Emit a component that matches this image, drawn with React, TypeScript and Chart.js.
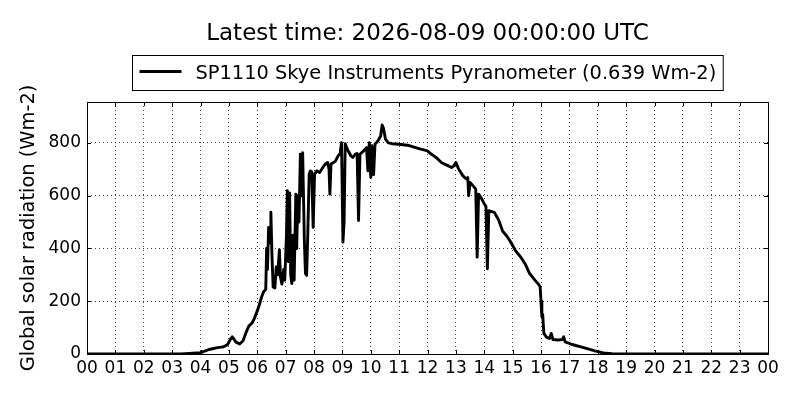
import React, { useEffect, useRef } from 'react';
import { Chart, registerables } from 'chart.js';

Chart.register(...registerables);

const titleText = 'Latest time: 2026-08-09 00:00:00 UTC';
const seriesLabel = 'SP1110 Skye Instruments Pyranometer (0.639 Wm-2)';
const yAxisTitle = 'Global solar radiation (Wm-2)';

const hourLabels = [
  '00', '01', '02', '03', '04', '05', '06', '07', '08', '09', '10', '11',
  '12', '13', '14', '15', '16', '17', '18', '19', '20', '21', '22', '23', '00',
];
const yTickStep = 200;
const yMax = 955;

// time of day in hours
const timeHours = [
  0, 3.3, 3.6, 4.0, 4.3, 4.6, 4.8, 4.95, 5.05, 5.12, 5.25, 5.38, 5.5, 5.6, 5.7, 5.82, 5.9,
  6.05, 6.15, 6.22, 6.3, 6.33, 6.36, 6.4, 6.45, 6.48, 6.52, 6.56, 6.62, 6.67, 6.72, 6.78,
  6.82, 6.87, 6.93, 6.97, 7.03, 7.06, 7.1, 7.14, 7.18, 7.22, 7.26, 7.3, 7.36, 7.39, 7.43,
  7.47, 7.52, 7.56, 7.6, 7.66, 7.7, 7.74, 7.78, 7.83, 7.87, 7.92, 7.97, 8.02, 8.1, 8.2,
  8.3, 8.4, 8.48, 8.53, 8.56, 8.6, 8.75, 8.85, 8.92, 8.97, 9.02, 9.06, 9.1, 9.2, 9.3,
  9.37, 9.45, 9.52, 9.57, 9.62, 9.75, 9.85, 9.9, 9.95, 10.0, 10.04, 10.1, 10.15, 10.25,
  10.35, 10.4, 10.45, 10.52, 10.62, 10.75, 11.0, 11.35, 11.7, 12.0, 12.1, 12.3, 12.5,
  12.7, 12.85, 12.92, 13.0, 13.1, 13.25, 13.37, 13.42, 13.45, 13.5, 13.6, 13.7, 13.75,
  13.8, 13.9, 14.0, 14.06, 14.11, 14.16, 14.35, 14.5, 14.65, 14.78, 14.9, 15.1, 15.3,
  15.45, 15.6, 15.8, 15.93, 15.97, 16.0, 16.03, 16.06, 16.1, 16.2, 16.3, 16.36, 16.42,
  16.6, 16.75, 16.8, 16.85, 17.1, 17.5, 17.9, 18.2, 18.5, 19.0, 24.0,
];

// global solar radiation, Wm-2
const radiation = [
  0, 0, 2, 5, 17, 24, 27, 35, 55, 65, 45, 38, 50, 80, 105, 118, 135,
  178, 215, 235, 245, 400, 320, 480, 420, 537, 370, 254, 250, 330, 300, 395,
  290, 265, 320, 280, 450, 619, 350, 610, 300, 267, 450, 280, 606, 400, 600,
  500, 757, 600, 763, 430, 305, 298, 450, 682, 694, 690, 480, 682, 694, 688,
  705, 720, 726, 700, 606, 720, 730, 751, 760, 801, 424, 500, 797, 770, 751,
  745, 757, 760, 506, 757, 770, 782, 694, 801, 669, 789, 680, 795, 807,
  826, 868, 855, 814, 800, 797, 795, 790, 778, 770, 760, 745, 725,
  715, 707, 712, 726, 700, 675, 663, 669, 600, 650, 638, 625, 367,
  606, 590, 569, 560, 323, 543, 537, 510, 465, 449, 430, 392, 365,
  340, 305, 278, 262, 254, 200, 141, 150, 78, 63, 59, 78, 55,
  53, 55, 65, 46, 36, 24, 12, 4, 1, 0, 0,
];

const FONT = '"DejaVu Sans", sans-serif';
const AREA = { left: 87, right: 768, top: 102, bottom: 354 };

const mplFramePlugin = {
  id: 'mplFrame',
  afterDraw(chart: any) {
    const { ctx, chartArea, scales } = chart;
    const { left, right, top, bottom } = chartArea;
    ctx.save();
    ctx.strokeStyle = '#000';
    ctx.lineWidth = 1;
    ctx.setLineDash([]);
    // inward tick marks on all four sides
    ctx.beginPath();
    const xs = scales.x;
    for (const t of xs.ticks) {
      const px = Math.round(xs.getPixelForValue(t.value)) + 0.5;
      ctx.moveTo(px, bottom);
      ctx.lineTo(px, bottom - 4);
      ctx.moveTo(px, top);
      ctx.lineTo(px, top + 4);
    }
    const ys = scales.y;
    for (const t of ys.ticks) {
      const py = Math.round(ys.getPixelForValue(t.value)) + 0.5;
      ctx.moveTo(left, py);
      ctx.lineTo(left + 4, py);
      ctx.moveTo(right, py);
      ctx.lineTo(right - 4, py);
    }
    ctx.stroke();
    // axes frame
    ctx.strokeRect(Math.round(left) + 0.5, Math.round(top) + 0.5, Math.round(right - left), Math.round(bottom - top));

    // legend box
    const fs = 19.4;
    ctx.font = `${fs}px ${FONT}`;
    const tw = ctx.measureText(seriesLabel).width;
    const padL = 7, lineW = 42, gap = 14, padR = 7;
    const w = padL + lineW + gap + tw + padR;
    const cx = (left + right) / 2;
    const bx = Math.round(cx - w / 2) + 0.5;
    const by = top - 47 + 0.5;
    const bh = 35;
    ctx.fillStyle = '#fff';
    ctx.fillRect(bx, by, w, bh);
    ctx.strokeStyle = '#000';
    ctx.lineWidth = 1;
    ctx.strokeRect(bx, by, w, bh);
    ctx.beginPath();
    ctx.lineWidth = 2.8;
    ctx.moveTo(bx + padL, top - 30.5);
    ctx.lineTo(bx + padL + lineW, top - 30.5);
    ctx.stroke();
    ctx.fillStyle = '#000';
    ctx.textBaseline = 'alphabetic';
    ctx.textAlign = 'left';
    ctx.fillText(seriesLabel, bx + padL + lineW + gap, top - 23);
    ctx.restore();
  },
};

export default function App() {
  const canvasRef = useRef<HTMLCanvasElement | null>(null);

  useEffect(() => {
    document.body.style.margin = '0';
    const canvas = canvasRef.current;
    if (!canvas) return;
    const points = timeHours.map((h, i) => ({ x: h, y: radiation[i] }));
    const chart = new Chart(canvas, {
      type: 'line',
      data: {
        datasets: [
          {
            label: seriesLabel,
            data: points,
            borderColor: '#000',
            backgroundColor: '#000',
            borderWidth: 2.9,
            borderJoinStyle: 'round',
            borderCapStyle: 'round',
            pointRadius: 0,
            tension: 0,
            fill: false,
          },
        ],
      },
      options: {
        responsive: false,
        animation: false,
        devicePixelRatio: 1,
        layout: { padding: { left: 0, right: 800 - AREA.right, top: 0, bottom: 0 } },
        plugins: {
          legend: { display: false },
          tooltip: { enabled: false },
          title: {
            display: true,
            text: titleText,
            fullSize: false,
            color: '#000',
            font: { family: FONT, size: 23, weight: 'normal', lineHeight: 1.2 },
            padding: { top: 19.9, bottom: AREA.top - 19.9 - 27.6 },
          },
        },
        scales: {
          x: {
            type: 'linear',
            min: 0,
            max: 24,
            afterFit: (scale: any) => {
              scale.height = 400 - AREA.bottom;
            },
            ticks: {
              stepSize: 1,
              autoSkip: false,
              maxRotation: 0,
              includeBounds: false,
              padding: 4,
              color: '#000',
              font: { family: FONT, size: 17 },
              callback: (_v: any, i: number) => hourLabels[i],
            },
            grid: { color: 'rgba(0,0,0,0.75)', lineWidth: 1, drawTicks: false },
            border: { display: false, dash: [1, 3] },
          },
          y: {
            type: 'linear',
            min: 0,
            max: yMax,
            afterFit: (scale: any) => {
              scale.width = AREA.left;
            },
            ticks: {
              stepSize: yTickStep,
              includeBounds: false,
              padding: 6,
              color: '#000',
              font: { family: FONT, size: 17 },
            },
            grid: { color: 'rgba(0,0,0,0.75)', lineWidth: 1, drawTicks: false },
            border: { display: false, dash: [1, 3] },
            title: {
              display: true,
              text: yAxisTitle,
              color: '#000',
              font: { family: FONT, size: 19.4, weight: 'normal', lineHeight: 1.2 },
              padding: { top: 17, bottom: 0 },
            },
          },
        },
      },
      plugins: [mplFramePlugin],
    });
    return () => chart.destroy();
  }, []);

  return (
    <div style={{ width: 800, height: 400, background: '#fff' }}>
      <canvas ref={canvasRef} width={800} height={400} style={{ display: 'block' }} />
    </div>
  );
}
